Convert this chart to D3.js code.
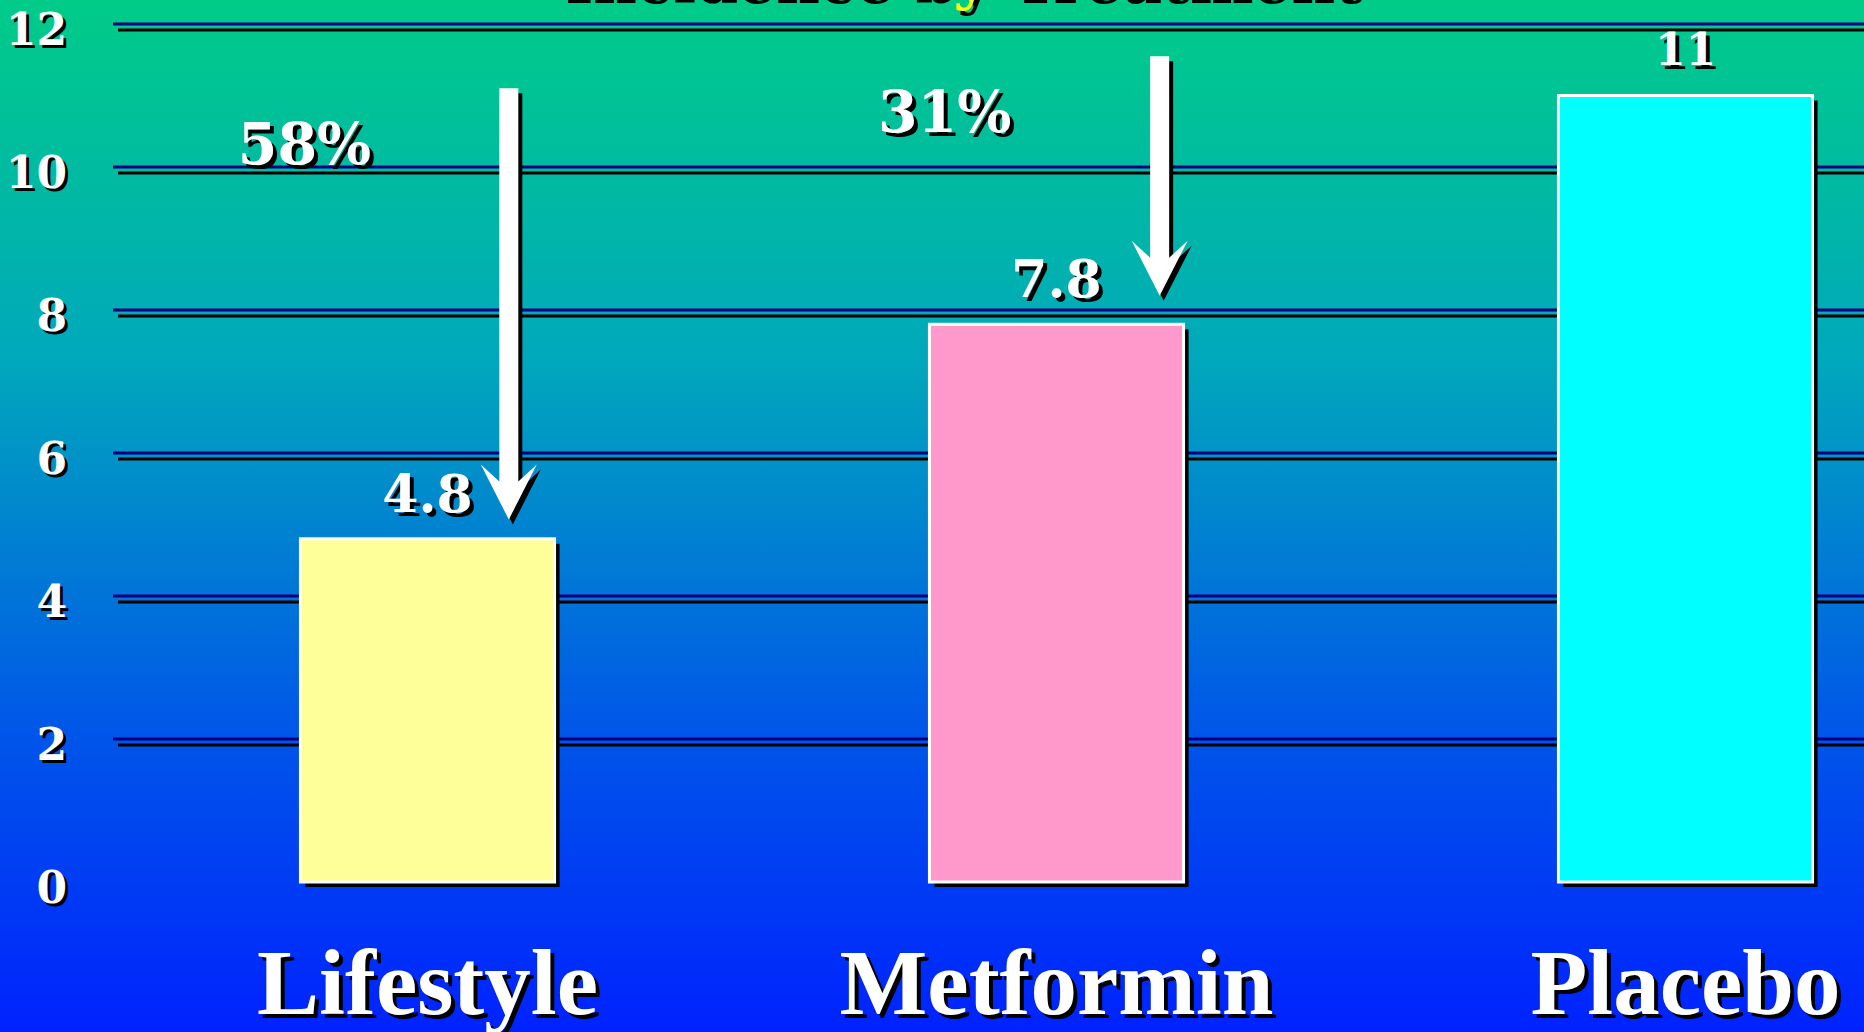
<!DOCTYPE html>
<html>
<head>
<meta charset="utf-8">
<script src="https://cdn.jsdelivr.net/npm/d3@7"></script>
<style>
  html, body { margin: 0; padding: 0; overflow: hidden; background: #0022ff; }
  svg { display: block; }
</style>
</head>
<body>
<svg id="chart" width="1864" height="1032"></svg>
<script>
// Diabetes incidence by treatment group
const categories = ["Lifestyle", "Metformin", "Placebo"];
const values = [4.8, 7.8, 11];
const valueLabels = ["4.8", "7.8", "11"];
const barColors = ["#FFFF99", "#FF99CC", "#00FFFF"];
const yTickValues = [0, 2, 4, 6, 8, 10, 12];
const gridValues = [2, 4, 6, 8, 10, 12];
const reductionGroups = ["Lifestyle", "Metformin"];
const reductionLabels = ["58%", "31%"];
const titleParts = [
  { text: "Incidence ", color: "#ffffff" },
  { text: "by", color: "#ffff00" },
  { text: " Treatment", color: "#ffffff" }
];

const W = 1864, H = 1032;
const svg = d3.select("#chart");

// background gradient, green at the top fading to blue
const defs = svg.append("defs");
const grad = defs.append("linearGradient").attr("id", "bg")
  .attr("x1", 0).attr("y1", 0).attr("x2", 0).attr("y2", 1);
[[0, "#00CC88"], [0.35, "#00A8BC"], [0.7, "#0058E8"], [1, "#0022FF"]]
  .forEach(([o, c]) => grad.append("stop").attr("offset", o).attr("stop-color", c));
svg.append("rect").attr("width", W).attr("height", H).attr("fill", "url(#bg)");

// scales
const x = d3.scaleBand().domain(categories).range([113, 2000])
  .paddingInner(0.596).paddingOuter(0.298);
const y = d3.scaleLinear().domain([0, 12]).range([882, 24]);

const serifWide = "'DejaVu Serif', serif";
const serifTall = "'Liberation Serif', 'Times New Roman', serif";

// title (runs off the top edge)
function drawTitle(dx, dy, shadow) {
  const t = svg.append("text")
    .attr("x", 960 + dx).attr("y", -2 + dy)
    .attr("text-anchor", "middle")
    .attr("font-family", serifWide).attr("font-weight", "bold")
    .attr("font-size", 60);
  titleParts.forEach(p => t.append("tspan").text(p.text)
    .attr("fill", shadow ? "#000" : p.color));
}
drawTitle(4, 5, true);
drawTitle(0, 0, false);

// gridlines: navy rule with a black drop shadow
const grid = svg.append("g");
grid.selectAll("line.shadow").data(gridValues).join("line")
  .attr("class", "shadow")
  .attr("x1", 118).attr("x2", W)
  .attr("y1", d => y(d) + 6).attr("y2", d => y(d) + 6)
  .attr("stroke", "#000").attr("stroke-width", 3);
grid.selectAll("line.rule").data(gridValues).join("line")
  .attr("class", "rule")
  .attr("x1", 113).attr("x2", W)
  .attr("y1", d => y(d)).attr("y2", d => y(d))
  .attr("stroke", "#000080").attr("stroke-width", 3);

// y axis labels (shadow copy, then white)
function yAxisLayer(dx, dy, color) {
  const g = svg.append("g").attr("transform", `translate(${67 + dx},${20 + dy})`)
    .call(d3.axisLeft(y).tickValues(yTickValues).tickSize(0).tickPadding(0));
  g.select(".domain").remove();
  g.selectAll("text")
    .attr("fill", color).attr("dy", 0)
    .attr("font-family", serifWide).attr("font-weight", "bold")
    .attr("font-size", 44);
}
yAxisLayer(3, 3, "#000");
yAxisLayer(0, 0, "#fff");

// bars with shadow
const barData = categories.map((c, i) => ({ c, v: values[i], color: barColors[i], label: valueLabels[i] }));
svg.append("g").selectAll("rect").data(barData).join("rect")
  .attr("x", d => x(d.c) + 5).attr("y", d => y(d.v) + 5)
  .attr("width", x.bandwidth()).attr("height", d => y(0) - y(d.v))
  .attr("fill", "#000");
svg.append("g").selectAll("rect").data(barData).join("rect")
  .attr("x", d => x(d.c)).attr("y", d => y(d.v))
  .attr("width", x.bandwidth()).attr("height", d => y(0) - y(d.v))
  .attr("fill", d => d.color)
  .attr("stroke", "#fff").attr("stroke-width", 3);

// value labels above bars
function valueLayer(dx, dy, color) {
  svg.append("g").selectAll("text").data(barData).join("text")
    .attr("x", d => x(d.c) + x.bandwidth() / 2 + dx)
    .attr("y", d => y(d.v) - (d.label === "11" ? 31 : 27) + dy)
    .attr("text-anchor", "middle")
    .attr("font-family", serifWide).attr("font-weight", "bold")
    .attr("font-size", d => d.label === "11" ? 44 : 52)
    .attr("fill", color)
    .text(d => d.label);
}
valueLayer(4, 4, "#000");
valueLayer(0, 0, "#fff");

// downward arrows marking the reduction against placebo
const arrows = [
  { c: "Lifestyle", fx: 0.82, top: 11.1, tip: 5.07, label: reductionLabels[0], lx: 0.016, ly: 10.04 },
  { c: "Metformin", fx: 0.906, top: 11.55, tip: 8.2, label: reductionLabels[1], lx: 0.06, ly: 10.49 }
].filter(a => reductionGroups.includes(a.c));

function arrowPath(a) {
  const cx = x(a.c) + a.fx * x.bandwidth();
  const t = y(a.top), p = y(a.tip);
  const sw = 9.5, hw = 28, hl = 55, notch = 38;
  return d3.line()([
    [cx - sw, t], [cx + sw, t], [cx + sw, p - notch], [cx + hw, p - hl],
    [cx, p], [cx - hw, p - hl], [cx - sw, p - notch]
  ]) + "Z";
}
svg.append("g").attr("transform", "translate(4,5)")
  .selectAll("path").data(arrows).join("path")
  .attr("d", arrowPath).attr("fill", "#000");
svg.append("g")
  .selectAll("path").data(arrows).join("path")
  .attr("d", arrowPath).attr("fill", "#fff");

function pctLayer(dx, dy, color) {
  svg.append("g").selectAll("text").data(arrows).join("text")
    .attr("x", d => x(d.c) + d.lx * x.bandwidth() + dx)
    .attr("y", d => y(d.ly) + dy)
    .attr("text-anchor", "middle")
    .attr("font-family", serifWide).attr("font-weight", "bold")
    .attr("font-size", 57)
    .attr("fill", color)
    .text(d => d.label);
}
pctLayer(4, 4, "#000");
pctLayer(0, 0, "#fff");

// category labels along the bottom
function xAxisLayer(dx, dy, color) {
  const g = svg.append("g").attr("transform", `translate(${dx},${1014 + dy})`)
    .call(d3.axisBottom(x).tickSize(0).tickPadding(0));
  g.select(".domain").remove();
  g.selectAll("text")
    .attr("fill", color).attr("dy", 0).attr("y", 0)
    .attr("font-family", serifTall).attr("font-weight", "bold")
    .attr("font-size", 93);
}
xAxisLayer(4, 4, "#000");
xAxisLayer(0, 0, "#fff");
</script>
</body>
</html>
